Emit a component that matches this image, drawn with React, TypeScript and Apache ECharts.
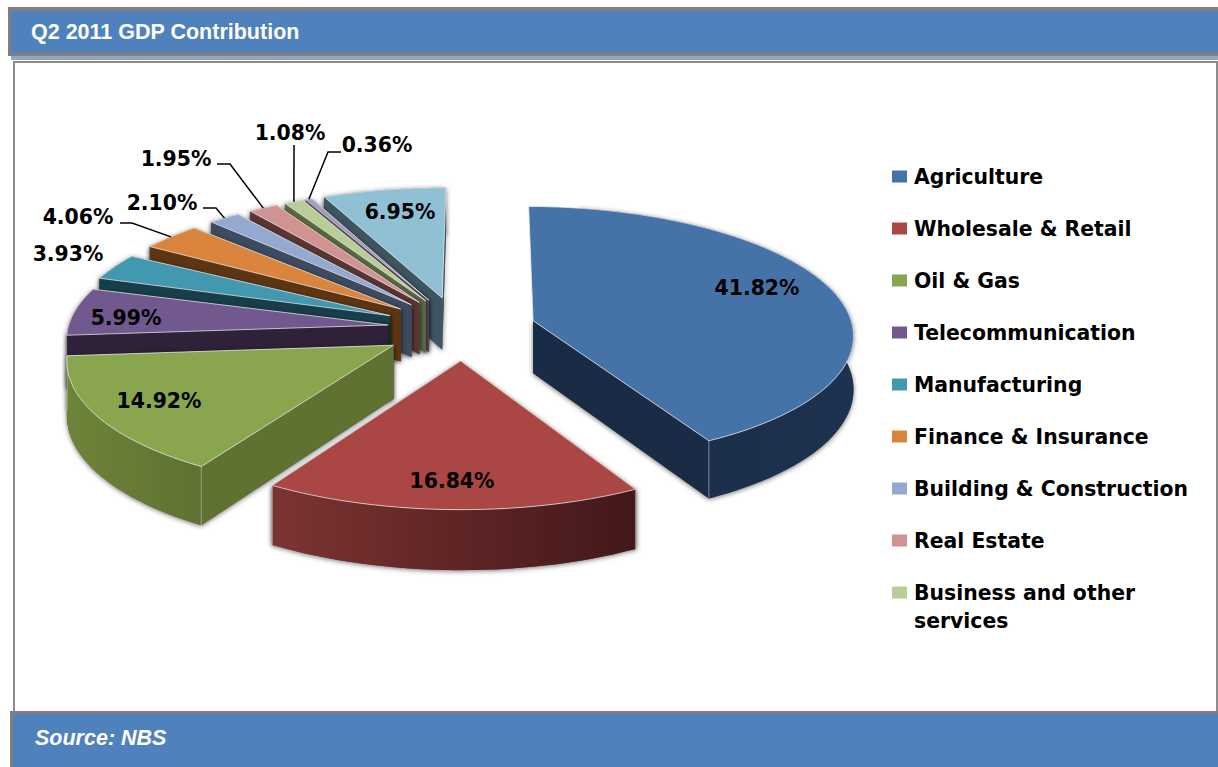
import React, { useEffect, useRef } from "react";
import * as echarts from "echarts";

const categories = [
  "Agriculture", "Wholesale & Retail", "Oil & Gas", "Telecommunication", "Manufacturing",
  "Finance & Insurance", "Building & Construction", "Real Estate", "Business and other",
  "Other (unlisted A)", "Other (unlisted B)",
];
const shares = [41.82, 16.84, 14.92, 5.99, 3.93, 4.06, 2.10, 1.95, 1.08, 0.36, 6.95];
const legendCount = 9;
const topColors = ["#4572a7", "#aa4643", "#89a54e", "#71588f", "#4198af", "#db843d", "#93a9cf", "#d19392", "#b9cd96", "#a99bbd", "#8fc0d4"];
const wallColors = ["#1a2c45", "#6a2a28", "#5f7232", "#2e2138", "#173e4a", "#5e3513", "#3d4a60", "#5a3633", "#5b6a42", "#5a5068", "#3d5560"];
const arcWallLeft = ["#1a2c45", "#7c3431", "#6d8439", "#2e2138", "#173e4a", "#5e3513", "#3d4a60", "#5a3633", "#5b6a42", "#5a5068", "#3d5560"];
const arcWallRight = ["#1d3250", "#43171a", "#5f7232", "#2e2138", "#173e4a", "#5e3513", "#3d4a60", "#5a3633", "#5b6a42", "#5a5068", "#3d5560"];

// Layout of the percentage labels (centres) and their leader elbows
const labelCentres: number[][] = [
  [757, 288], [452, 481], [159, 401], [126, 318], [68, 254], [78, 217],
  [162, 203], [176, 159], [290, 133], [377, 145], [400, 212],
];
const leaderElbows: (number[][] | null)[] = [
  null, null, null, null, null,
  [[120, 223], [132, 223]], [[203, 208], [216, 208]], [[217, 164], [230, 164]],
  [[294, 145]], [[341, 152], [328, 152]], null,
];

// Projection of the tilted, exploded pie
const X0 = 456, Y0 = 328.4, RX = 320, RY = 127, K = 0.0994, EXPLODE = 0.25, DEPTH = 53, START = 0.5;
const project = (u: number, v: number, d = 0) => {
  const w = 1 - K * v;
  return [X0 + (RX * u) / w, Y0 + (RY * v) / w + (DEPTH * d) / w];
};
const rad = (a: number) => (a * Math.PI) / 180;
const nudgeFor = (mid: number) =>
  mid > 340 ? 0.008 : mid > 290 ? 0.02 : mid > 262 ? 0.035 : mid > 180 ? 0.02 : 0;

const cumulative = shares.map((_, i) => shares.slice(0, i).reduce((a, b) => a + b, 0));
const total = shares.reduce((a, b) => a + b, 0);
const midForward = shares.map((s, i) => -Math.cos(rad(START + ((cumulative[i] + s / 2) / total) * 360)));
const drawRank = shares.map((_, i) => [...midForward].sort((a, b) => a - b).indexOf(midForward[i]));

const renderSlice = (index: number) => (_params: any, api: any) => {
  const share = api.value(0), before = api.value(1);
  const s0 = START + (before / total) * 360;
  const s1 = s0 + (share / total) * 360;
  const mid = (s0 + s1) / 2;
  // wedges at the far left foreshorten a little in the perspective of the picture
  const narrow = mid > 285 && mid < 330 ? 0.85 : 1;
  const a0 = mid - ((s1 - s0) / 2) * narrow;
  const a1 = mid + ((s1 - s0) / 2) * narrow;
  const ex = EXPLODE * Math.sin(rad(mid)) + nudgeFor(mid), ev = -EXPLODE * Math.cos(rad(mid));
  const steps = Math.max(4, Math.ceil((a1 - a0) / 2));
  const arcAt = (t: number, d = 0) => project(ex + Math.sin(rad(t)), ev - Math.cos(rad(t)), d);
  const arc: number[][] = [], arcLow: number[][] = [];
  const wallArc: number[][] = [], wallArcLow: number[][] = [];
  for (let i = 0; i <= steps; i++) {
    const t = a0 + ((a1 - a0) * i) / steps;
    arc.push(arcAt(t));
    arcLow.push(arcAt(t, 1));
    // the far rim's wall is hidden behind the top face
    if (t > 10) {
      wallArc.push(arcAt(t));
      wallArcLow.push(arcAt(t, 1));
    }
  }
  const apex = project(ex, ev), apexLow = project(ex, ev, 1);
  const radial0 = [apex, arc[0], arcLow[0], apexLow];
  const radial1 = [apex, arc[steps], arcLow[steps], apexLow];
  const arcWall = [...wallArc, ...[...wallArcLow].reverse()];
  const shadow = { fill: "#555", shadowBlur: 5, shadowColor: "rgba(0,0,0,0.55)", shadowOffsetY: 1 };
  const wall = { fill: wallColors[index] };
  const radials = a0 > 10 ? [radial0, radial1] : [radial1];
  const children: any[] = [
    ...radials.map((points) => ({ type: "polygon", shape: { points }, style: shadow })),
    { type: "polygon", shape: { points: arcWall }, style: shadow },
    ...radials.map((points) => ({ type: "polygon", shape: { points }, style: wall })),
    {
      type: "polygon",
      shape: { points: arcWall },
      style: {
        fill: {
          type: "linear", x: 0, y: 0, x2: 1, y2: 0,
          colorStops: [{ offset: 0, color: arcWallLeft[index] }, { offset: 1, color: arcWallRight[index] }],
        },
      },
    },
  ];
  [0, steps].forEach((i) => {
    const t = a0 + ((a1 - a0) * i) / steps;
    if (-Math.cos(rad(t)) > 0) {
      children.push({
        type: "line",
        shape: { x1: arc[i][0], y1: arc[i][1], x2: arcLow[i][0], y2: arcLow[i][1] },
        style: { stroke: "rgba(255,255,255,0.4)", lineWidth: 1 },
      });
    }
  });
  children.push({
    type: "polygon",
    shape: { points: [apex, ...arc] },
    style: { fill: topColors[index], stroke: "rgba(235,235,235,0.75)", lineWidth: 1 },
  });
  const elbows = leaderElbows[index];
  if (elbows) {
    children.push({
      type: "polyline",
      shape: { points: [...elbows, arcAt(mid)] },
      style: { fill: "none", stroke: "#000", lineWidth: 1.5 },
    });
  }
  children.push({
    type: "text",
    x: labelCentres[index][0],
    y: labelCentres[index][1],
    style: {
      text: `${share.toFixed(2)}%`,
      fill: "#000",
      font: 'bold 20.4px "DejaVu Sans"',
      align: "center",
      verticalAlign: "middle",
    },
  });
  return { type: "group", children };
};

const BLUE = "#4f81bd", GREY = "#7f7f7f";

export default function App() {
  const ref = useRef<HTMLDivElement>(null);
  useEffect(() => {
    document.body.style.margin = "0";
    const chart = echarts.init(ref.current!, null, { renderer: "svg" });
    chart.setOption({
      animation: false,
      backgroundColor: "#fff",
      tooltip: { show: false },
      legend: {
        left: 892,
        top: 162,
        padding: 0,
        orient: "vertical",
        icon: "rect",
        itemWidth: 15,
        itemHeight: 12,
        itemGap: 23,
        selectedMode: false,
        textStyle: { fontFamily: "DejaVu Sans", fontWeight: "bold", fontSize: 20.4, lineHeight: 29, color: "#000", padding: [0, 0, 0, 2] },
        data: categories.slice(0, legendCount),
      },
      graphic: [
        { type: "rect", z: 0, shape: { x: 8, y: 7, width: 1210, height: 49 }, style: { fill: GREY } },
        { type: "rect", z: 0, shape: { x: 11, y: 56, width: 1207, height: 4 }, style: { fill: "#97a6bd" } },
        { type: "rect", z: 0, shape: { x: 11, y: 11, width: 1207, height: 42 }, style: { fill: BLUE } },
        { type: "rect", z: 0, shape: { x: 14, y: 62, width: 1203, height: 660 }, style: { fill: "#fff", stroke: "#8c8c8c", lineWidth: 2 } },
        { type: "rect", z: 1, shape: { x: 10, y: 711, width: 1208, height: 56 }, style: { fill: GREY } },
        { type: "rect", z: 1, shape: { x: 13, y: 714, width: 1205, height: 53 }, style: { fill: BLUE } },
        { type: "text", z: 1, x: 31, y: 32, style: { text: "Q2 2011 GDP Contribution", fill: "#fff", font: 'bold 21.5px "Liberation Sans"', verticalAlign: "middle" } },
        { type: "text", z: 1, x: 35, y: 738, style: { text: "Source: NBS", fill: "#fff", font: 'italic bold 21.5px "Liberation Sans"', verticalAlign: "middle" } },
        { type: "text", z: 1, x: 914, y: 621, style: { text: "services", fill: "#000", font: 'bold 20.4px "DejaVu Sans"', verticalAlign: "middle" } },
      ],
      series: categories.map((name, i) => ({
        type: "custom",
        name,
        z: 2 + drawRank[i],
        coordinateSystem: "none",
        silent: true,
        itemStyle: { color: topColors[i] },
        renderItem: renderSlice(i),
        data: [{ value: [shares[i], cumulative[i]] }],
      })),
    });
    return () => chart.dispose();
  }, []);
  return <div ref={ref} style={{ width: 1218, height: 767 }} />;
}
